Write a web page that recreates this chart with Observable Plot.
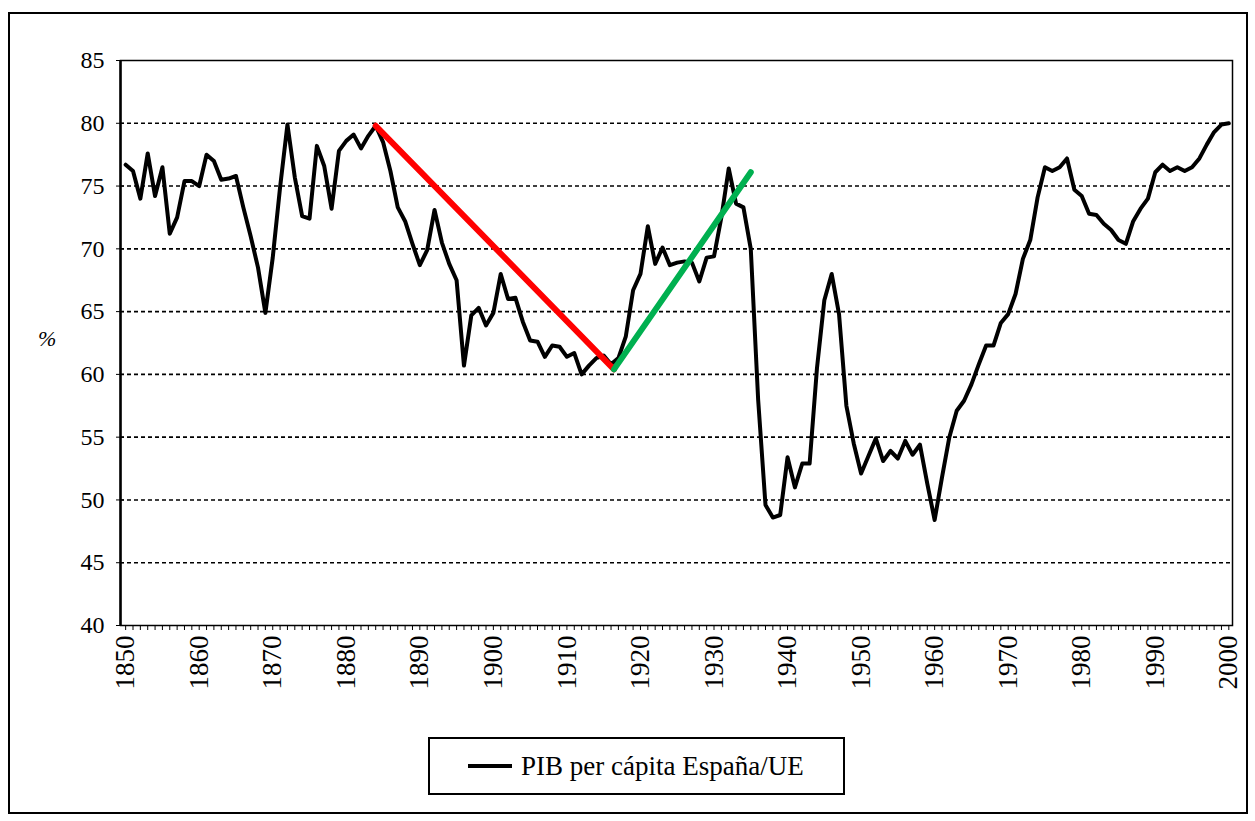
<!DOCTYPE html>
<html>
<head>
<meta charset="utf-8">
<script src="https://cdn.jsdelivr.net/npm/d3@7"></script>
<script src="https://cdn.jsdelivr.net/npm/@observablehq/plot@0.6"></script>
<style>
  html, body { margin: 0; padding: 0; background: #fff; }
  #wrap { position: relative; width: 1255px; height: 821px; overflow: hidden; font-family: "Liberation Serif", "Times New Roman", serif; }
  #outer { position: absolute; left: 8px; top: 12px; width: 1240px; height: 802px; border: 2px solid #000; box-sizing: border-box; pointer-events: none; }
  #chart { position: absolute; left: 0; top: 0; }
  #pct { position: absolute; left: 38px; top: 326px; font-size: 22px; font-style: italic; }
  #legend { position: absolute; left: 428px; top: 737px; width: 417px; height: 58px; border: 2px solid #000; box-sizing: border-box; display: flex; align-items: center; font-size: 27px; background: #fff; }
  #legend svg { margin-left: 38px; margin-right: 9px; }
</style>
</head>
<body>
<div id="wrap">
  <div id="chart"></div>
  <div id="pct">%</div>
  <div id="legend"><svg width="44" height="10"><line x1="0" y1="5" x2="44" y2="5" stroke="#000" stroke-width="4"/></svg><span>PIB per cápita España/UE</span></div>
  <div id="outer"></div>
</div>
<script>
// Years 1850..2000
const years = d3.range(1850, 2001);
// PIB per cápita España/UE (%), one value per year
const values = [
  76.7, 76.2, 74.0, 77.6, 74.2, 76.5, 71.2, 72.5, 75.4, 75.4, // 1850s
  75.0, 77.5, 77.0, 75.5, 75.6, 75.8, 73.3, 71.0, 68.5, 64.9, // 1860s
  69.3, 74.9, 79.9, 75.7, 72.6, 72.4, 78.2, 76.6, 73.2, 77.8, // 1870s
  78.6, 79.1, 78.0, 79.0, 79.8, 78.5, 76.2, 73.3, 72.2, 70.4, // 1880s
  68.7, 69.9, 73.1, 70.5, 68.8, 67.5, 60.7, 64.7, 65.3, 63.9, // 1890s
  64.9, 68.0, 66.0, 66.1, 64.2, 62.7, 62.6, 61.4, 62.3, 62.2, // 1900s
  61.4, 61.7, 60.0, 60.7, 61.3, 61.5, 60.8, 61.3, 63.0, 66.7, // 1910s
  68.0, 71.8, 68.8, 70.1, 68.7, 68.9, 69.0, 68.9, 67.4, 69.3, // 1920s
  69.4, 72.5, 76.4, 73.6, 73.3, 70.0, 58.0, 49.6, 48.6, 48.8, // 1930s
  53.4, 51.0, 52.9, 52.9, 60.5, 65.9, 68.0, 64.8, 57.5, 54.5, // 1940s
  52.1, 53.5, 54.9, 53.1, 53.9, 53.3, 54.7, 53.6, 54.4, 51.3, // 1950s
  48.4, 51.8, 55.0, 57.1, 57.9, 59.2, 60.8, 62.3, 62.3, 64.1, // 1960s
  64.8, 66.4, 69.2, 70.7, 74.1, 76.5, 76.2, 76.5, 77.2, 74.7, // 1970s
  74.2, 72.8, 72.7, 72.0, 71.5, 70.7, 70.4, 72.2, 73.2, 74.0, // 1980s
  76.1, 76.7, 76.2, 76.5, 76.2, 76.5, 77.2, 78.3, 79.3, 79.9, // 1990s
  80.0                                                        // 2000
];
// Hand-drawn trend segments (decline in red, recovery in green)
const redYears = [1884, 1916.4];
const redValues = [79.8, 60.4];
const greenYears = [1916.4, 1935];
const greenValues = [60.4, 76.1];
// Axis ticks
const yTicks = [40, 45, 50, 55, 60, 65, 70, 75, 80, 85];
const gridValues = [45, 50, 55, 60, 65, 70, 75, 80];
const xLabelYears = d3.range(1850, 2001, 10);

const series = years.map((y, i) => ({year: y, value: values[i]}));
const red = redYears.map((y, i) => ({year: y, value: redValues[i]}));
const green = greenYears.map((y, i) => ({year: y, value: greenValues[i]}));

const chart = Plot.plot({
  width: 1255,
  height: 700,
  marginLeft: 120,
  marginRight: 23,
  marginTop: 60,
  marginBottom: 75,
  style: {fontFamily: "'Liberation Serif', 'Times New Roman', serif", background: "transparent", color: "#000"},
  x: {domain: [1849.3, 2000.5], axis: null},
  y: {domain: [40, 85], axis: null},
  marks: [
    Plot.ruleY(gridValues, {stroke: "#000", strokeWidth: 1.6, strokeDasharray: "4,3"}),
    Plot.frame({stroke: "#000", strokeWidth: 1.5}),
    Plot.ruleX([1849.3], {stroke: "#000", strokeWidth: 2.5}),
    Plot.axisY(yTicks, {label: null, tickSize: 8, dx: 4, tickFormat: () => "", stroke: "#000"}),
    Plot.axisY(yTicks, {label: null, tickSize: 0, tickPadding: 16, fontSize: 24, fill: "#000"}),
    Plot.axisX(years, {label: null, tickSize: 5, tickFormat: () => "", stroke: "#000"}),
    Plot.axisX(xLabelYears, {label: null, tickSize: 0, tickPadding: 10, tickRotate: -90, fontSize: 27, fill: "#000", tickFormat: d => String(d)}),
    Plot.line(series, {x: "year", y: "value", stroke: "#000", strokeWidth: 4}),
    Plot.line(red, {x: "year", y: "value", stroke: "#ff0000", strokeWidth: 6}),
    Plot.line(green, {x: "year", y: "value", stroke: "#00b050", strokeWidth: 6})
  ]
});
document.getElementById("chart").appendChild(chart);
</script>
</body>
</html>
